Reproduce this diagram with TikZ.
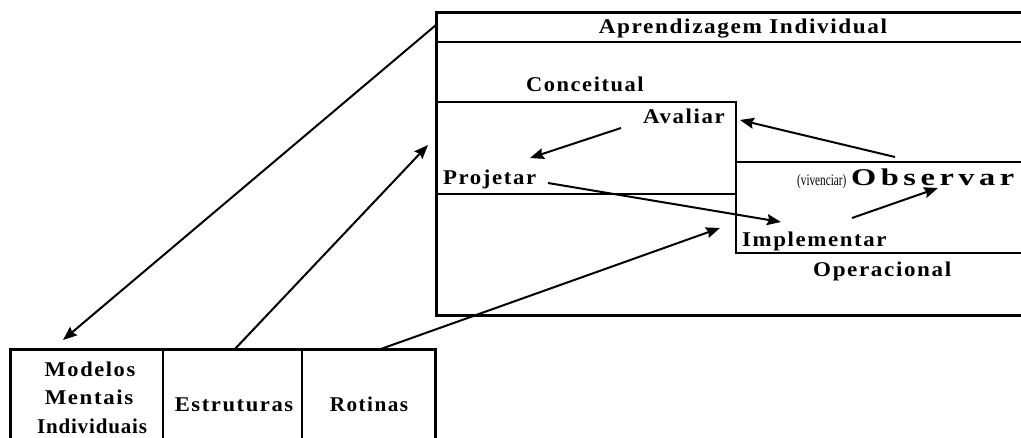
\documentclass[tikz,border=0pt]{standalone}
\usepackage{fontspec}
\usepackage{graphicx}
\setmainfont{Liberation Serif}
\usetikzlibrary{arrows.meta}
\newcommand\lsp[1]{\addfontfeature{LetterSpace=#1}}
\newcommand\sx[2]{\scalebox{#1}[1]{\lsp{7}#2}}
\begin{document}
\begin{tikzpicture}[x=1pt,y=-1pt,
  lbl/.style={inner sep=0pt, font=\fontsize{21}{24}\selectfont\bfseries},
  small/.style={inner sep=0pt, font=\fontsize{16}{18}\selectfont},
  box/.style={line width=3pt},
  inner/.style={line width=2.5pt},
  conn/.style={line width=2pt},
  arr/.style={conn, -{Stealth[length=14pt,width=11pt,inset=2pt]}}]
\useasboundingbox (0,0) rectangle (1021,438);
\fill[white] (0,0) rectangle (1021,438);
% big box
\draw[box] (1021,13) -| (436,316) -- (1021,316);
\draw[inner] (436,42) -- (1021,42);
% conceptual box
\draw[inner] (436,102) -| (736,194) -- (436,194);
% operational box
\draw[inner] (1021,162) -| (736,253) -- (1021,253);
% bottom box
\draw[box] (10,442) |- (435,350) -- (435,442);
\draw[inner] (163,350) -- (163,442);
\draw[inner] (302,350) -- (302,442);
% labels
\node[lbl, anchor=base] (title) at (743,34) {\sx{1.105}{Aprendizagem Individual}};
\node[lbl, anchor=base west] (conc) at (526,92) {\sx{1.067}{Conceitual}};
\node[lbl, anchor=base west] (aval) at (643,124) {\sx{1.09}{Avaliar}};
\node[lbl, anchor=base west] (proj) at (443,185) {\sx{1.085}{Projetar}};
\node[small, anchor=base west] (viv) at (797,186) {\scalebox{0.7}[1]{(vivenciar)}};
\node[lbl, anchor=base west, font=\fontsize{24}{27}\selectfont\bfseries] (obs) at (851,186) {\scalebox{1.35}[1]{\lsp{14}Observar}};
\node[lbl, anchor=base west] (impl) at (742,247) {\sx{1.09}{Implementar}};
\node[lbl, anchor=base west] (oper) at (813,277) {\sx{1.10}{Operacional}};
\node[lbl, anchor=base] (mod) at (90,377) {\sx{1.07}{Modelos}};
\node[lbl, anchor=base] (ment) at (89,405) {\sx{1.09}{Mentais}};
\node[lbl, anchor=base] (indiv) at (92,434) {\scalebox{1.0}[1]{\lsp{4}Individuais}};
\node[lbl, anchor=base] (estr) at (234,412) {\sx{1.076}{Estruturas}};
\node[lbl, anchor=base] (rot) at (369,412) {\sx{1.01}{Rotinas}};
% connector ends
\coordinate (bigTL) at (436,25);
\coordinate (mmEnd) at (63,340);
\coordinate (estTop) at (234,350);
\coordinate (estEnd) at (428,145);
\coordinate (rotTop) at (378,350);
\coordinate (impIn) at (720,228);
\coordinate (obsA) at (895,157);
\coordinate (avaA) at (740,120);
\coordinate (avaB) at (621,128);
\coordinate (proA) at (530,158);
\coordinate (proB) at (548,183);
\coordinate (impA) at (781,222);
\coordinate (impB) at (852,218);
\coordinate (obsB) at (938,188);
% connectors
\draw[arr] (bigTL) -- (mmEnd);
\draw[arr] (estTop) -- (estEnd);
\draw[arr] (rotTop) -- (impIn);
\draw[arr] (obsA) -- (avaA);
\draw[arr] (avaB) -- (proA);
\draw[arr] (proB) -- (impA);
\draw[arr] (impB) -- (obsB);
\end{tikzpicture}
\end{document}
